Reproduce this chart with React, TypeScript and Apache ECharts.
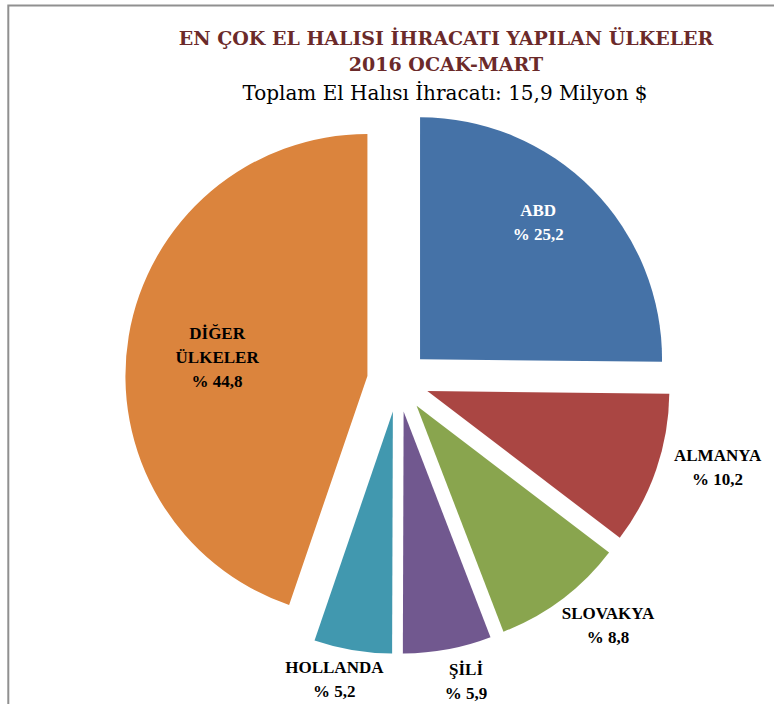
import React, { useEffect, useRef } from "react";
import * as echarts from "echarts";

const titleLine1 = "EN ÇOK EL HALISI İHRACATI YAPILAN ÜLKELER";
const titleLine2 = "2016 OCAK-MART";
const subtitle = "Toplam El Halısı İhracatı: 15,9 Milyon $";

const countries = ["ABD", "ALMANYA", "SLOVAKYA", "ŞİLİ", "HOLLANDA", "DİĞER\nÜLKELER"];
const shares = [25.2, 10.2, 8.8, 5.9, 5.2, 44.8];
const colors = ["#4572A7", "#AA4643", "#89A54E", "#71588F", "#4198AF", "#DB843D"];
const labelColors = ["#ffffff", "#000000", "#000000", "#000000", "#000000", "#000000"];
const labelShiftX = [30, 173, 117, 40, -38, -28];
const labelShiftY = [-50, 36, 120, 148, 146, 2];

export default function App() {
  const ref = useRef<HTMLDivElement>(null);
  useEffect(() => {
    if (!ref.current) return;
    const chart = echarts.init(ref.current, null, { renderer: "svg" });
    const serif = "'Liberation Serif', 'DejaVu Serif', serif";
    const wideSerif = "'DejaVu Serif', 'Liberation Serif', serif";
    chart.setOption({
      animation: false,
      backgroundColor: "#ffffff",
      title: [
        {
          text: titleLine1 + "\n" + titleLine2,
          left: 441,
          textAlign: "center",
          top: 20,
          textStyle: {
            fontFamily: wideSerif,
            fontWeight: "bold",
            fontSize: 19,
            color: "#6B2A2A",
            lineHeight: 26,
          },
        },
        {
          text: subtitle,
          left: 440,
          textAlign: "center",
          top: 78,
          textStyle: {
            fontFamily: wideSerif,
            fontWeight: "normal",
            fontSize: 20,
            color: "#000000",
          },
        },
      ],
      graphic: [
        {
          type: "rect",
          shape: { x: 8.3, y: 5.5, width: 900, height: 900 },
          style: { fill: "none", stroke: "#909090", lineWidth: 2 },
          silent: true,
        },
      ],
      series: [
        {
          type: "pie",
          center: [398, 381],
          radius: 242,
          startAngle: 90,
          clockwise: true,
          selectedMode: "multiple",
          selectedOffset: 31,
          emphasis: { disabled: true, scale: false },
          select: { itemStyle: { borderWidth: 0 } },
          itemStyle: { borderWidth: 0 },
          labelLine: { show: false },
          label: {
            show: true,
            position: "inside",
            rotate: 0,
            fontFamily: serif,
            fontWeight: "bold",
            fontSize: 17,
            lineHeight: 24,
            align: "center",
            formatter: (p: any) =>
              p.name + "\n% " + Number(p.value).toFixed(1).replace(".", ","),
          },
          labelLayout: (p: any) => ({
            dx: labelShiftX[p.dataIndex],
            dy: labelShiftY[p.dataIndex],
          }),
          data: countries.map((name, i) => ({
            name,
            value: shares[i],
            selected: true,
            itemStyle: { color: colors[i] },
            label: { color: labelColors[i] },
          })),
        },
      ],
    });
    return () => chart.dispose();
  }, []);
  return (
    <div
      ref={ref}
      style={{ position: "fixed", left: 0, top: 0, width: 774, height: 704 }}
    />
  );
}
